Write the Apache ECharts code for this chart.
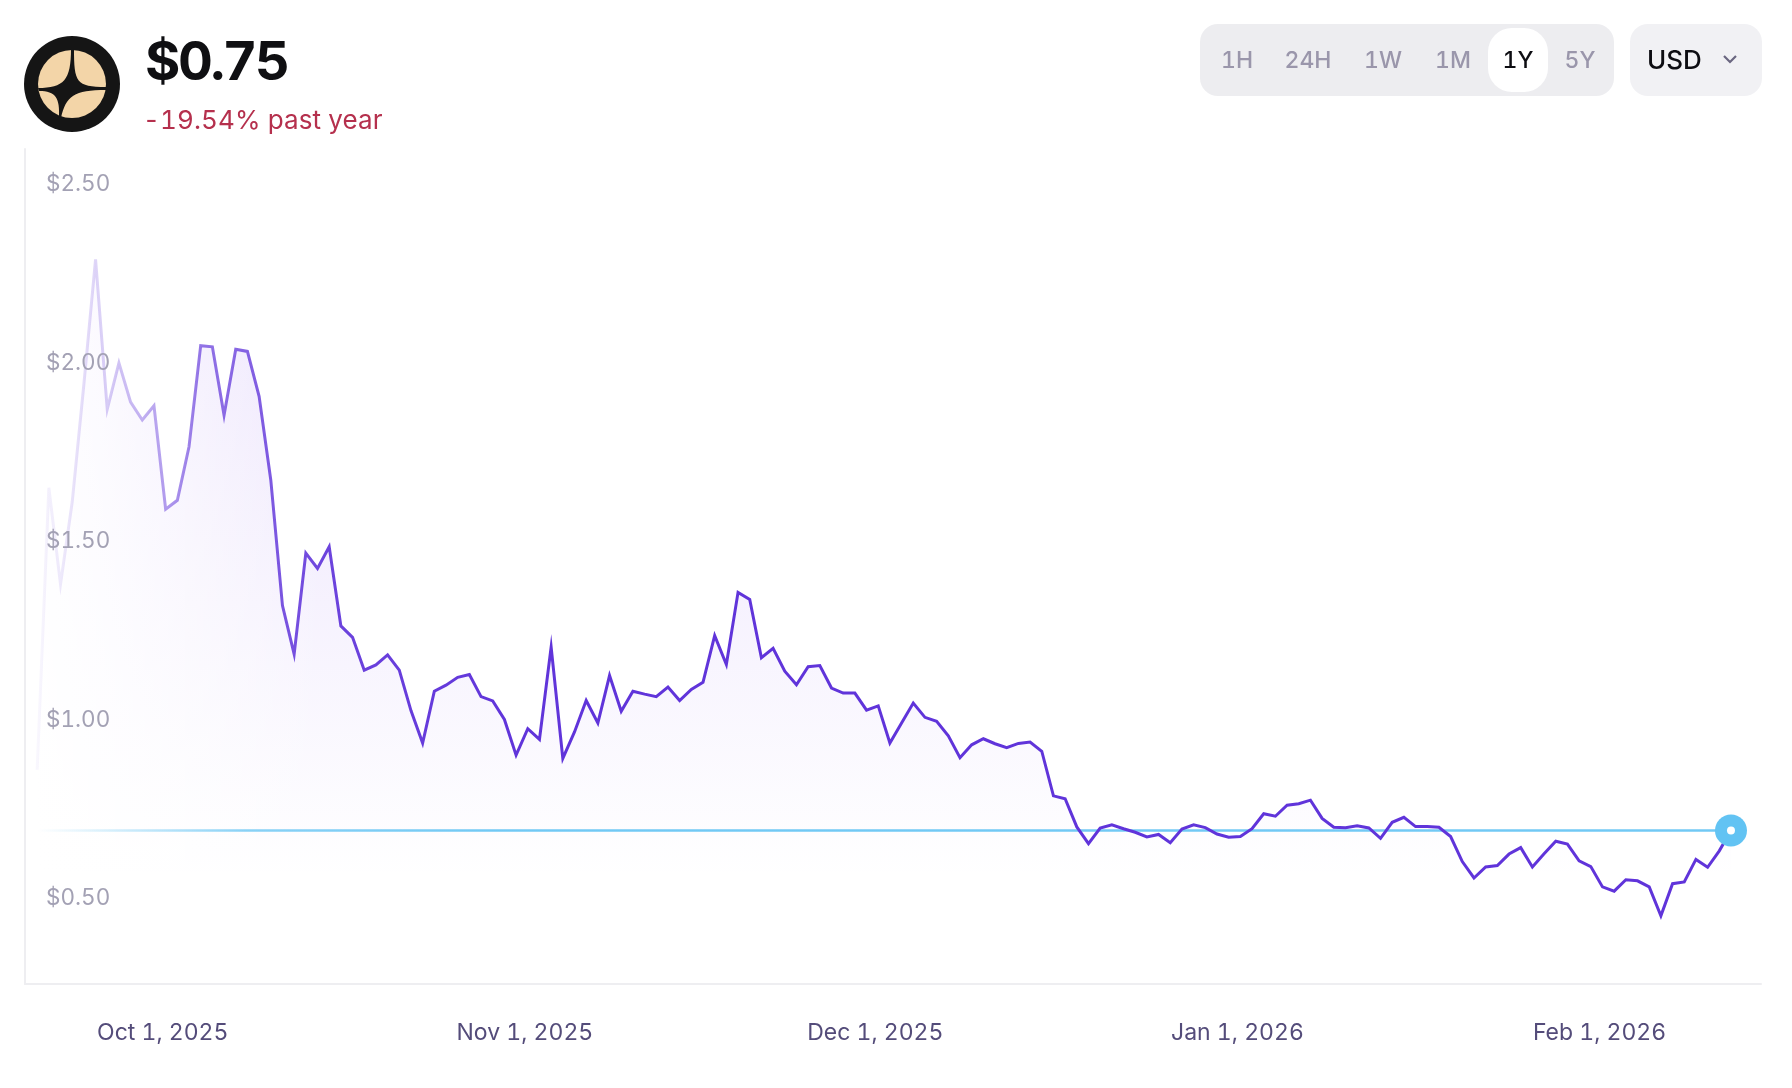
<!DOCTYPE html>
<html>
<head>
<meta charset="utf-8">
<title>Price chart</title>
<script src="https://cdn.jsdelivr.net/npm/echarts@6/dist/echarts.min.js"></script>
<style>
    html, body { margin: 0; padding: 0; background: #fff; }
    body { width: 1792px; height: 1088px; position: relative; overflow: hidden; font-family: Inter, "Noto Sans", sans-serif; font-variant-numeric: tabular-nums; }
    #chart { position: absolute; left: 0; top: 0; width: 1792px; height: 1088px; }
    .abs { position: absolute; white-space: nowrap; }
    #logo { left: 24px; top: 36px; }
    #price { left: 145px; top: 30px; font-size: 54px; line-height: 62px; font-weight: 700; color: #0f0f12; letter-spacing: -2.4px; }
    #change { left: 143px; top: 104px; font-size: 26px; line-height: 32px; color: #b5304d; letter-spacing: 0.12px; }
    #ranges { left: 1200px; top: 24px; width: 414px; height: 72px; border-radius: 18px; background: #ededf0; }
    #ranges span { position: absolute; top: 0; line-height: 72px; width: 60px; text-align: center; font-size: 23px; font-weight: 500; color: #9a96ab; }
    #ranges span.on { top: 4px; height: 64px; line-height: 64px; border-radius: 24px; background: #fff; color: #0d0d12; }
    #currency { left: 1630px; top: 24px; width: 132px; height: 72px; border-radius: 18px; background: #f1f1f4; }
    #currency b { position: absolute; left: 17px; top: 0; line-height: 72px; font-size: 26px; font-weight: 500; color: #0d0d12; }
    #currency svg { position: absolute; left: 92px; top: 29px; }
</style>
</head>
<body>
<div id="chart"></div>
<svg id="logo" class="abs" width="96" height="96" viewBox="24 36 96 96">
    <circle cx="72" cy="84" r="48" fill="#151515"/>
    <circle cx="72" cy="84" r="34" fill="#f3d5a8"/>
    <path d="M71,49 C71,80 64,88 38,88 L39,91 C56,91 60,98 59,118 L61,118 C66,96 74,90 106,90 L106,87 C76,87 74,82 74,49 Z" fill="#151515"/>
</svg>
<div id="price" class="abs">$0.75</div>
<div id="change" class="abs">-19.54% past year</div>
<div id="ranges" class="abs"></div>
<div id="currency" class="abs">
    <b>USD</b>
    <svg width="16" height="12" viewBox="0 0 16 12"><path d="M2,3 L8,9 L14,3" fill="none" stroke="#6a6680" stroke-width="2.2"/></svg>
</div>

<script>
// 每日价格, 从 9月20日 到 2月12日
const prices = [
    0.92, 1.71, 1.44, 1.67, 2.00, 2.35, 1.93, 2.06, 1.95, 1.90,
    1.94, 1.65, 1.675, 1.825, 2.108, 2.105, 1.913, 2.098, 2.092, 1.966,
    1.732, 1.38, 1.244, 1.527, 1.484, 1.545, 1.323, 1.291, 1.199, 1.214,
    1.242, 1.199, 1.086, 0.995, 1.14, 1.157, 1.179, 1.187, 1.125, 1.113,
    1.061, 0.961, 1.035, 1.005, 1.264, 0.952, 1.026, 1.114, 1.051, 1.184,
    1.084, 1.14, 1.132, 1.125, 1.152, 1.114, 1.145, 1.165, 1.296, 1.215,
    1.417, 1.397, 1.234, 1.26, 1.196, 1.158, 1.209, 1.212, 1.149, 1.135,
    1.135, 1.087, 1.099, 0.995, 1.051, 1.107, 1.067, 1.056, 1.015, 0.954,
    0.99, 1.007, 0.993, 0.982, 0.994, 0.998, 0.972, 0.847, 0.839, 0.76,
    0.713, 0.757, 0.766, 0.755, 0.745, 0.732, 0.739, 0.716, 0.754, 0.766,
    0.758, 0.74, 0.731, 0.733, 0.755, 0.797, 0.79, 0.821, 0.825, 0.835,
    0.784, 0.759, 0.758, 0.763, 0.757, 0.728, 0.773, 0.787, 0.761, 0.761,
    0.759, 0.733, 0.663, 0.617, 0.648, 0.652, 0.684, 0.702, 0.648, 0.685,
    0.72, 0.712, 0.665, 0.649, 0.592, 0.58, 0.612, 0.609, 0.592, 0.511,
    0.601, 0.606, 0.669, 0.647, 0.693, 0.75
];
const yTicks = [0.5, 1, 1.5, 2, 2.5];
const xTickDates = ['2025-10-01', '2025-11-01', '2025-12-01', '2026-01-01', '2026-02-01'];
const xTickLabels = ['Oct 1, 2025', 'Nov 1, 2025', 'Dec 1, 2025', 'Jan 1, 2026', 'Feb 1, 2026'];
const rangeLabels = ['1H', '24H', '1W', '1M', '1Y', '5Y'];
const rangeCenters = [37, 108, 183, 253, 318, 380];
const activeRange = '1Y';

const DAY = 86400000;
const START = Date.UTC(2025, 8, 20, 6);
const lastPrice = prices[prices.length - 1];
const series0 = prices.map((v, i) => [START + i * DAY, v]);
const lastTime = START + (prices.length - 1) * DAY;
const xTicks = xTickDates.map(d => Date.parse(d + 'T00:00:00Z'));

// 顶部按钮
const rangesEl = document.getElementById('ranges');
rangeLabels.forEach((label, i) => {
    const el = document.createElement('span');
    el.textContent = label;
    el.style.left = (rangeCenters[i] - 30) + 'px';
    if (label === activeRange) el.className = 'on';
    rangesEl.appendChild(el);
});

const LG = echarts.graphic.LinearGradient;
const chart = echarts.init(document.getElementById('chart'));

const purple = a => `rgba(96,52,218,${a})`;
const lilac = a => `rgba(128,72,240,${a})`;
const option = {
    animation: false,
    backgroundColor: '#fff',
    textStyle: { fontFamily: 'Inter' },
    grid: { left: 25, right: 31, top: 149, bottom: 104 },
    xAxis: {
        type: 'value',
        min: START - 1.04 * DAY,
        max: lastTime + 2.57 * DAY,
        z: 6,
        axisLine: { show: true, lineStyle: { color: '#eeeef1', width: 2 } },
        axisTick: { show: false },
        splitLine: { show: false },
        axisLabel: {
            customValues: xTicks,
            color: '#544c7a',
            fontSize: 23,
            margin: 38,
            hideOverlap: false,
            formatter: v => xTickLabels[xTicks.indexOf(v)] || ''
        }
    },
    yAxis: {
        type: 'value',
        min: 0.32,
        max: 2.659,
        z: 6,
        axisLine: { show: true, lineStyle: { color: '#eeeef1', width: 2 } },
        axisTick: { show: false },
        splitLine: { show: false },
        axisLabel: {
            customValues: yTicks,
            inside: true,
            margin: 21,
            color: '#a3a1b4',
            fontSize: 22.5,
            verticalAlign: 'bottom',
            lineHeight: 43,
            formatter: v => '$' + v.toFixed(2)
        }
    },
    // 左侧渐隐: 盖在面积上, 线条之下
    graphic: [{
        type: 'rect',
        z: 2,
        silent: true,
        shape: { x: 26, y: 149, width: 300, height: 833 },
        style: {
            fill: new LG(0, 0, 1, 0, [
                { offset: 0, color: 'rgba(255,255,255,1)' },
                { offset: 0.25, color: 'rgba(255,255,255,0.8)' },
                { offset: 1, color: 'rgba(255,255,255,0)' }
            ])
        }
    }],
    series: [
        {
            name: 'area',
            type: 'line',
            z: 1,
            silent: true,
            data: series0,
            showSymbol: false,
            lineStyle: { width: 0 },
            areaStyle: {
                origin: 'start',
                color: new LG(0, 300, 0, 880, [
                    { offset: 0, color: lilac(0.21) },
                    { offset: 1, color: lilac(0) }
                ], true)
            }
        },
        {
            name: 'current',
            type: 'line',
            z: 3,
            silent: true,
            data: [[START, lastPrice], [lastTime, lastPrice]],
            showSymbol: false,
            lineStyle: {
                width: 2.4,
                color: new LG(37, 0, 500, 0, [
                    { offset: 0, color: 'rgba(98,195,243,0)' },
                    { offset: 0.45, color: 'rgba(98,195,243,0.75)' },
                    { offset: 1, color: 'rgba(98,195,243,0.9)' }
                ], true)
            }
        },
        {
            name: 'price',
            type: 'line',
            z: 4,
            silent: true,
            data: series0,
            showSymbol: false,
            lineStyle: {
                width: 3,
                join: 'miter',
                color: new LG(37, 0, 520, 0, [
                    { offset: 0, color: purple(0.04) },
                    { offset: 0.12, color: purple(0.2) },
                    { offset: 0.24, color: purple(0.42) },
                    { offset: 0.34, color: purple(0.68) },
                    { offset: 0.6, color: purple(0.92) },
                    { offset: 1, color: purple(1) }
                ], true)
            }
        },
        {
            name: 'marker',
            type: 'scatter',
            z: 5,
            silent: true,
            data: [[lastTime, lastPrice]],
            symbolSize: 32,
            itemStyle: { color: '#62c3f3', opacity: 1 }
        },
        {
            name: 'markerDot',
            type: 'scatter',
            z: 5,
            silent: true,
            data: [[lastTime, lastPrice]],
            symbolSize: 8,
            itemStyle: { color: '#fff', opacity: 1 }
        }
    ]
};
chart.setOption(option);
</script>
</body>
</html>
